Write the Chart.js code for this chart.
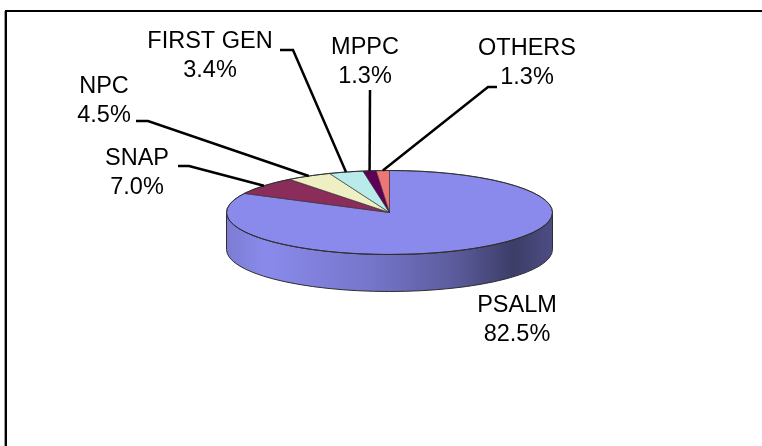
<!DOCTYPE html>
<html lang="en">
<head>
  <meta charset="UTF-8">
  <title>Share by program</title>
  <script src="https://cdn.jsdelivr.net/npm/chart.js"></script>
  <style>
    body { margin: 0; background: #fff; }
    #pie { display: block; }
  </style>
</head>
<body>
  <canvas id="pie" width="762" height="446"></canvas>

  <script>
    const categories = ['PSALM', 'SNAP', 'NPC', 'FIRST GEN', 'MPPC', 'OTHERS'];
    const shares = [82.5, 7.0, 4.5, 3.4, 1.3, 1.3];
    const sliceColors = ['#8a8aec', '#8b2d5b', '#efefc4', '#b9ebeb', '#5e0058', '#ee7676'];

    // labels were placed by hand in the original sheet: centre x, first line y, leader elbow
    const labelSpots = [
      { x: 517, y: 306 },
      { x: 137, y: 159, elbow: [[178, 166], [189, 166]] },
      { x: 104, y: 87, elbow: [[136, 121], [148, 121]] },
      { x: 210, y: 42, elbow: [[280, 50], [293, 50]] },
      { x: 365, y: 48, elbow: [[370, 90]] },
      { x: 527, y: 49, elbow: [[497, 87], [488, 87]] }
    ];

    const tilt = 42 / 163;  // squash of the disc
    const depth = 37;       // thickness of the side wall
    const lineGap = 29;

    function shade(hex, f) {
      const n = parseInt(hex.slice(1), 16);
      const c = [(n >> 16) & 255, (n >> 8) & 255, n & 255].map(v => Math.round(v * f));
      return 'rgb(' + c.join(',') + ')';
    }

    const fakeThreeD = {
      id: 'fakeThreeD',
      beforeDraw(chart) {
        // frame: only top and left edges show in the crop
        const ctx = chart.ctx;
        ctx.save();
        ctx.fillStyle = '#000';
        ctx.fillRect(5, 10, chart.width - 5, 2);
        ctx.fillRect(5, 10, 2, chart.height - 10);
        ctx.fillStyle = '#9a9a9a';
        ctx.fillRect(4, 11, 1, chart.height - 11);
        ctx.restore();
      },
      beforeDatasetsDraw(chart) {
        const ctx = chart.ctx;
        const arcs = chart.getDatasetMeta(0).data;
        const cx = arcs[0].x, cy = arcs[0].y, r = arcs[0].outerRadius;
        const ry = r * tilt;

        // side wall, only the front half of the disc is visible
        arcs.forEach((arc, i) => {
          const a0 = Math.max(arc.startAngle, 0);
          const a1 = Math.min(arc.endAngle, Math.PI);
          if (a1 <= a0) return;
          const base = sliceColors[i];
          const grad = ctx.createLinearGradient(cx - r, 0, cx + r, 0);
          grad.addColorStop(0, shade(base, 0.9));
          grad.addColorStop(0.12, shade(base, 1));
          grad.addColorStop(0.45, shade(base, 0.85));
          grad.addColorStop(0.7, shade(base, 0.66));
          grad.addColorStop(0.88, shade(base, 0.44));
          grad.addColorStop(1, shade(base, 0.56));
          ctx.save();
          ctx.beginPath();
          ctx.ellipse(cx, cy, r, ry, 0, a0, a1, false);
          ctx.ellipse(cx, cy + depth, r, ry, 0, a1, a0, true);
          ctx.closePath();
          ctx.fillStyle = grad;
          ctx.fill();
          ctx.strokeStyle = '#2e2e2e';
          ctx.lineWidth = 1;
          ctx.stroke();
          ctx.restore();
        });

        // squash the library's own arcs into an ellipse
        ctx.save();
        ctx.translate(cx, cy);
        ctx.scale(1, tilt);
        ctx.translate(-cx, -cy);
      },
      afterDatasetsDraw(chart) {
        const ctx = chart.ctx;
        ctx.restore();

        const arcs = chart.getDatasetMeta(0).data;
        const cx = arcs[0].x, cy = arcs[0].y, r = arcs[0].outerRadius;
        const ry = r * tilt;

        ctx.save();
        ctx.beginPath();
        ctx.ellipse(cx, cy, r, ry, 0, 0, Math.PI * 2);
        ctx.strokeStyle = '#2e2e2e';
        ctx.lineWidth = 1;
        ctx.stroke();

        // leader lines
        ctx.strokeStyle = '#000';
        ctx.lineWidth = 2.5;
        arcs.forEach((arc, i) => {
          const spot = labelSpots[i];
          if (!spot.elbow) return;
          const mid = (arc.startAngle + arc.endAngle) / 2;
          ctx.beginPath();
          spot.elbow.forEach((p, k) => k ? ctx.lineTo(p[0], p[1]) : ctx.moveTo(p[0], p[1]));
          ctx.lineTo(cx + r * Math.cos(mid), cy + ry * Math.sin(mid));
          ctx.stroke();
        });

        // labels
        ctx.fillStyle = '#000';
        ctx.font = '23.5px "Liberation Sans", Arial, sans-serif';
        ctx.textAlign = 'center';
        ctx.textBaseline = 'middle';
        categories.forEach((name, i) => {
          const spot = labelSpots[i];
          ctx.fillText(name, spot.x, spot.y);
          ctx.fillText(shares[i].toFixed(1) + '%', spot.x, spot.y + lineGap);
        });
        ctx.restore();
      }
    };

    new Chart(document.getElementById('pie'), {
      type: 'pie',
      data: {
        labels: categories,
        datasets: [{
          data: shares,
          backgroundColor: sliceColors,
          borderColor: '#2e2e2e',
          borderWidth: 1,
          clip: false
        }]
      },
      options: {
        responsive: false,
        animation: false,
        layout: { padding: { left: 226, right: 209, top: 49, bottom: 70 } },
        plugins: {
          legend: { display: false },
          tooltip: { enabled: false }
        }
      },
      plugins: [fakeThreeD]
    });
  </script>
</body>
</html>
